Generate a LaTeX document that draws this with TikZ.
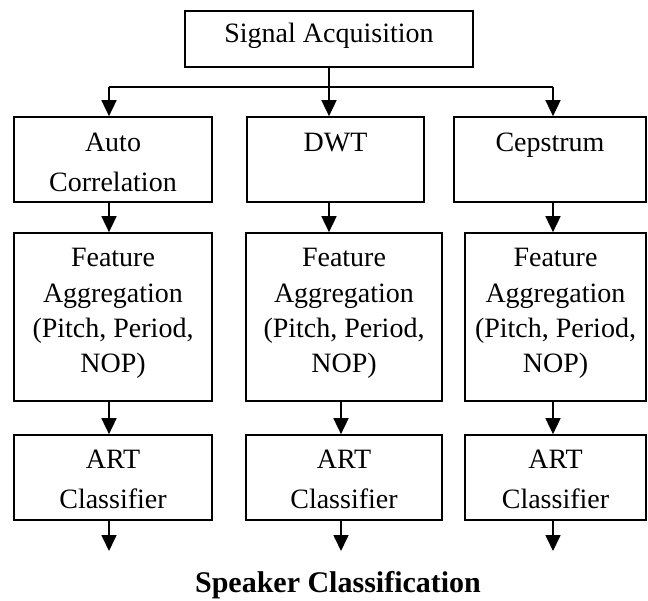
\documentclass[tikz,border=0pt]{standalone}
\usepackage{fontspec}
\setmainfont{Liberation Serif}
\usetikzlibrary{arrows.meta}
\begin{document}
\begin{tikzpicture}[x=1pt,y=-1pt,
  box/.style={draw, line width=1.7pt, inner sep=0pt},
  lbl/.style={anchor=base, inner sep=0pt, font=\fontsize{28}{28}\selectfont},
  arr/.style={line width=1.7pt, -{Triangle[length=16pt,width=15pt]}},
  ln/.style={line width=1.7pt}]
\useasboundingbox (0,0) rectangle (648,601);
% boxes
\node[box, minimum width=288pt, minimum height=56pt] (sig) at (329,39) {};
\node[box, minimum width=198pt, minimum height=85pt] (auto) at (113,159.5) {};
\node[box, minimum width=177pt, minimum height=85pt] (dwt) at (335.5,159.5) {};
\node[box, minimum width=192pt, minimum height=85pt] (cep) at (550,159.5) {};
\node[box, minimum width=198pt, minimum height=168pt] (fa1) at (113,317) {};
\node[box, minimum width=196pt, minimum height=168pt] (fa2) at (344,317) {};
\node[box, minimum width=181pt, minimum height=168pt] (fa3) at (555.5,317) {};
\node[box, minimum width=198pt, minimum height=85pt] (art1) at (113,477.5) {};
\node[box, minimum width=196pt, minimum height=85pt] (art2) at (344,477.5) {};
\node[box, minimum width=181pt, minimum height=85pt] (art3) at (555.5,477.5) {};
% texts
\node[lbl] (tsig) at (329,43) {Signal Acquisition};
\node[lbl] (ta1) at (113,152) {Auto};
\node[lbl] (ta2) at (113,192) {Correlation};
\node[lbl] (tdwt) at (335.5,152) {DWT};
\node[lbl] (tcep) at (550,152) {Cepstrum};
\foreach \c/\x in {1/113,2/344,3/555.5}{
  \node[lbl] (tf\c a) at (\x,267) {Feature};
  \node[lbl] (tf\c b) at (\x,303) {Aggregation};
  \node[lbl] (tf\c c) at (\x,338) {(Pitch, Period,};
  \node[lbl] (tf\c d) at (\x,373) {NOP)};
  \node[lbl] (tr\c a) at (\x,468) {ART};
  \node[lbl] (tr\c b) at (\x,508) {Classifier};
}
\node[anchor=base, inner sep=0pt, font=\bfseries\fontsize{30}{30}\selectfont] (spk) at (338,592) {Speaker Classification};
% junction coordinates
\coordinate (jl) at (109,87);
\coordinate (jm) at (329,87);
\coordinate (jr) at (553,87);
\coordinate (mm) at (341,0);
\coordinate (e1) at (109,551);
\coordinate (e2) at (341,551);
\coordinate (e3) at (553,551);
% connectors
\draw[ln] (sig.south) -- (jm);
\draw[ln] (jl) -- (jr);
\draw[arr] (jl) -- (auto.north -| jl);
\draw[arr] (jm) -- (dwt.north -| jm);
\draw[arr] (jr) -- (cep.north -| jr);
\draw[arr] (auto.south -| jl) -- (fa1.north -| jl);
\draw[arr] (dwt.south -| jm) -- (fa2.north -| jm);
\draw[arr] (cep.south -| jr) -- (fa3.north -| jr);
\draw[arr] (fa1.south -| jl) -- (art1.north -| jl);
\draw[arr] (fa2.south -| mm) -- (art2.north -| mm);
\draw[arr] (fa3.south -| jr) -- (art3.north -| jr);
\draw[arr] (art1.south -| e1) -- (e1);
\draw[arr] (art2.south -| e2) -- (e2);
\draw[arr] (art3.south -| e3) -- (e3);
\end{tikzpicture}
\end{document}
